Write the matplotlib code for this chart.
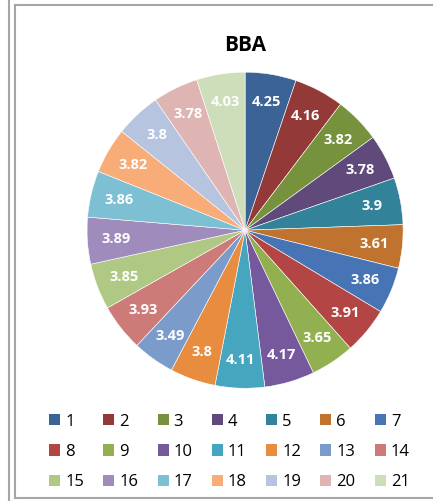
import matplotlib.pyplot as plt
from matplotlib.lines import Line2D

labels = [str(i) for i in range(1, 22)]
values = [4.25, 4.16, 3.82, 3.78, 3.9, 3.61, 3.86, 3.91, 3.65, 4.17, 4.11,
          3.8, 3.49, 3.93, 3.85, 3.89, 3.86, 3.82, 3.8, 3.78, 4.03]
colors = ['#3B6396', '#933A38', '#76923D', '#5F4A7B', '#32839A', '#C0722F',
          '#4774B4', '#B34644', '#92B050', '#76599C', '#46A5BF', '#E88C40',
          '#7B9BCB', '#CC7B79', '#AFC985', '#A08CBC', '#7DBFD3', '#F8AC78',
          '#B6C4E0', '#DFB5B4', '#CEDDBA']

plt.rcParams['font.family'] = ['Open Sans', 'DejaVu Sans']

fig = plt.figure(figsize=(4.33, 5.01), dpi=100)
ax = fig.add_axes([0.201, 0.225, 0.730, 0.631])

wedges, texts = ax.pie(values, colors=colors, startangle=90, counterclock=False,
                       labels=[str(v) for v in values], labeldistance=0.82,
                       wedgeprops=dict(edgecolor='white', linewidth=0.4))
for t in texts:
    t.set_color('white')
    t.set_fontweight('bold')
    t.set_fontsize(10.5)
    t.set_ha('center')
    t.set_va('center')
ax.set_xlim(-1.0, 1.0)
ax.set_ylim(-1.0, 1.0)
ax.set_aspect('equal')

fig.text(0.566, 0.909, 'BBA', ha='center', va='center', fontsize=15, fontweight='bold')

# legend laid out row by row, 7 columns
order = [c + 7 * r for c in range(7) for r in range(3)]
leg = fig.legend([wedges[i] for i in order], [labels[i] for i in order],
                 ncol=7, loc='center', bbox_to_anchor=(0.530, 0.098),
                 frameon=False, fontsize=12, handlelength=0.66, handleheight=0.66,
                 handletextpad=0.3, columnspacing=1.16, labelspacing=0.86)
for h in leg.legend_handles:
    h.set_edgecolor('none')

# sheet borders
fig.add_artist(Line2D([8.5 / 433, 8.5 / 433], [0, 1], color='#a6a6a6', lw=1.5))
fig.add_artist(Line2D([14.5 / 433, 14.5 / 433], [3.5 / 501, 496 / 501], color='#a6a6a6', lw=1.5))
fig.add_artist(Line2D([14.5 / 433, 1], [496 / 501, 496 / 501], color='#a6a6a6', lw=1.5))
fig.add_artist(Line2D([14.5 / 433, 1], [3.5 / 501, 3.5 / 501], color='#a6a6a6', lw=1.5))

fig.savefig('out.png', dpi=100)
